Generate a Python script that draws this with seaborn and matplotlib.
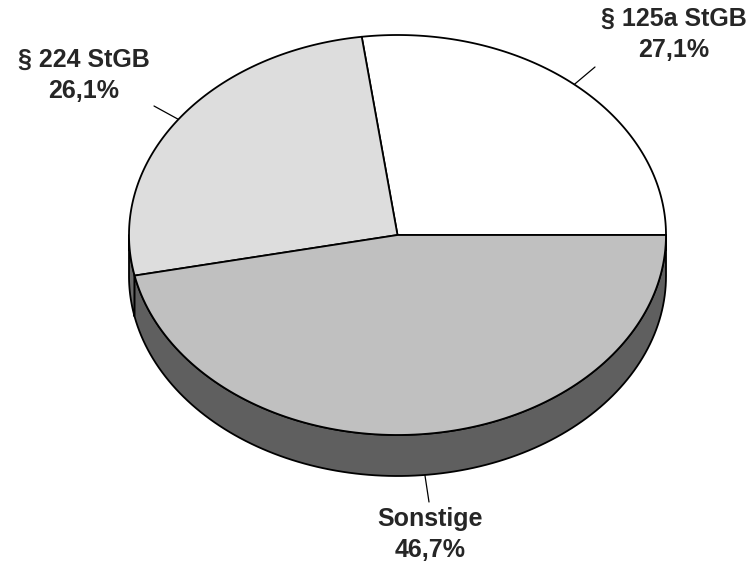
import numpy as np
import seaborn as sns
import matplotlib.pyplot as plt
from matplotlib.patches import Polygon

# data
labels = ['§ 125a StGB', '§ 224 StGB', 'Sonstige']
shares = [27.1, 26.1, 46.7]
pct_text = ['27,1%', '26,1%', '46,7%']
top_colors = ['#ffffff', '#dddddd', '#c0c0c0']
side_colors = ['#ffffff', '#6a6a6a', '#5f5f5f']

sns.set_style('white')
plt.rcParams['font.family'] = ['Liberation Sans', 'DejaVu Sans']

# ellipse geometry in pixel space
cx, cy, rx, ry, depth = 397.5, 235.0, 268.5, 200.0, 41.0


def pt(t, dy=0.0):
    t = np.radians(t)
    return cx + rx * np.cos(t), cy - ry * np.sin(t) + dy


def arc(a, b, dy=0.0, n=120):
    ts = np.linspace(a, b, n)
    return [pt(t, dy) for t in ts]


fig = plt.figure(figsize=(7.54, 5.64), dpi=100)
ax = fig.add_axes([0, 0, 1, 1])
ax.set_xlim(0, 754)
ax.set_ylim(564, 0)
ax.axis('off')

# angles from the shares
total = sum(shares)
edges = np.concatenate([[0], np.cumsum(shares) / total * 360])

# side faces (only the front half, 180..360 deg, is visible)
for i in range(len(shares)):
    a, b = max(edges[i], 180), min(edges[i + 1], 360)
    if b <= a:
        continue
    poly = arc(a, b) + arc(b, a, depth)
    ax.add_patch(Polygon(poly, closed=True, facecolor=side_colors[i],
                         edgecolor='black', lw=1.3, joinstyle='round'))

# top faces
for i in range(len(shares)):
    poly = [(cx, cy)] + arc(edges[i], edges[i + 1])
    ax.add_patch(Polygon(poly, closed=True, facecolor=top_colors[i],
                         edgecolor='black', lw=1.3, joinstyle='round'))

# labels with leader lines
label_pos = [(674, 19), (84, 60), (430, 519)]
line_end = [(595, 67), (154, 106), (429, 502)]
for i in range(len(shares)):
    mid = (edges[i] + edges[i + 1]) / 2
    dy = depth if 180 < mid < 360 else 0
    x0, y0 = pt(mid, dy)
    x1, y1 = line_end[i]
    ax.plot([x0, x1], [y0, y1], color='black', lw=0.9)
    lx, ly = label_pos[i]
    ax.text(lx, ly, labels[i], ha='center', va='center', fontsize=18,
            fontweight='bold')
    ax.text(lx, ly + 31, pct_text[i], ha='center', va='center', fontsize=18,
            fontweight='bold')

fig.savefig('out.png', dpi=100, facecolor='white')
